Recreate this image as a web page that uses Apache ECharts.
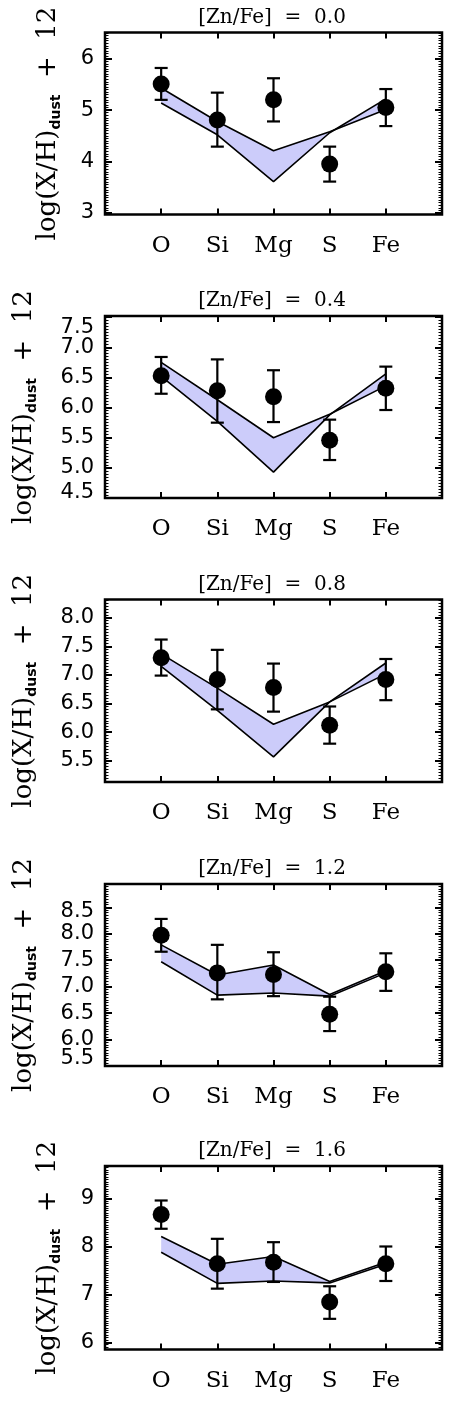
<!DOCTYPE html>
<html>
<head>
<meta charset="utf-8">
<script src="https://cdn.jsdelivr.net/npm/echarts@6/dist/echarts.min.js"></script>
<style>
html, body { margin: 0; padding: 0; background: #fff; }
#chart { width: 471px; height: 1417px; }
</style>
</head>
<body>
<div id="chart"></div>
<script>
const ELEMENTS = ['O', 'Si', 'Mg', 'S', 'Fe'];
const ELEMENT_X = [1, 2, 3, 4, 5];
const ZNFE = ['0.0', '0.4', '0.8', '1.2', '1.6'];

// observed dust-phase abundances, one row per panel
const OBS = [
    [5.51, 4.81, 5.20, 3.95, 5.05],
    [6.53, 6.28, 6.18, 5.46, 6.32],
    [7.30, 6.92, 6.78, 6.12, 6.92],
    [7.97, 7.26, 7.23, 6.48, 7.28],
    [8.67, 7.64, 7.67, 6.84, 7.64],
];
const OBS_HI = [
    [5.82, 5.34, 5.62, 4.29, 5.41],
    [6.84, 6.80, 6.62, 5.80, 6.68],
    [7.62, 7.44, 7.20, 6.45, 7.28],
    [8.28, 7.79, 7.65, 6.81, 7.63],
    [8.96, 8.16, 8.09, 7.17, 8.00],
];
const OBS_LO = [
    [5.20, 4.29, 4.78, 3.61, 4.69],
    [6.23, 5.75, 5.76, 5.13, 5.96],
    [6.99, 6.40, 6.36, 5.80, 6.56],
    [7.66, 6.76, 6.82, 6.16, 6.92],
    [8.37, 7.12, 7.26, 6.49, 7.28],
];

// model band: the two edges of the shaded envelope (they cross near S)
const MODEL_A = [
    [5.43, 4.78, 4.21, 4.58, 5.01],
    [6.75, 6.13, 5.50, 5.89, 6.36],
    [7.37, 6.77, 6.14, 6.53, 7.02],
    [7.79, 7.22, 7.41, 6.85, 7.30],
    [8.21, 7.63, 7.79, 7.27, 7.67],
];
const MODEL_B = [
    [5.14, 4.52, 3.61, 4.56, 5.22],
    [6.52, 5.77, 4.93, 5.88, 6.56],
    [7.15, 6.38, 5.57, 6.53, 7.21],
    [7.47, 6.84, 6.88, 6.82, 7.26],
    [7.88, 7.23, 7.28, 7.24, 7.63],
];

const Y_MIN = [2.97, 4.5, 5.13, 5.5, 5.85];
const Y_MAX = [6.51, 7.52, 8.32, 8.94, 9.68];
const Y_TICKS = [
    [3, 4, 5, 6],
    [4.5, 5, 5.5, 6, 6.5, 7, 7.5],
    [5.5, 6, 6.5, 7, 7.5, 8],
    [5.5, 6, 6.5, 7, 7.5, 8, 8.5],
    [6, 7, 8, 9],
];
const Y_TICK_LABELS = [
    ['3', '4', '5', '6'],
    ['4.5', '5.0', '5.5', '6.0', '6.5', '7.0', '7.5'],
    ['5.5', '6.0', '6.5', '7.0', '7.5', '8.0'],
    ['5.5', '6.0', '6.5', '7.0', '7.5', '8.0', '8.5'],
    ['6', '7', '8', '9'],
];

// layout
const GRID_TOP = [32.5, 316, 599.5, 884, 1166];
const GRID_H = [182, 182, 182.5, 182, 183.5];
const NAME_GAP = [42, 66, 66, 66, 42];
// IDL pushes the edge labels inward a bit; those go on their own axis so
// ECharts' overlap check doesn't drop the neighbours
const LABEL_NUDGE = { '1:7.5': 20, '1:4.5': -10, '3:5.5': -14, '3:8.5': 8 };

const SERIF = 'DejaVu Serif';
const SANS = 'DejaVu Sans';
const BAND_FILL = '#ccccfa';


function minorTicks(min, max) {
    const out = [];
    for (let k = Math.ceil(min / 0.05); k * 0.05 <= max + 1e-9; k++) out.push(+(k * 0.05).toFixed(2));
    return out;
}

const nudgeOf = (p, v) => LABEL_NUDGE[`${p}:${v}`];

function yLabel(p, v) {
    const i = Y_TICKS[p].findIndex(t => Math.abs(t - v) < 1e-6);
    if (i < 0) return '';
    const txt = Y_TICK_LABELS[p][i];
    const nudge = nudgeOf(p, Y_TICKS[p][i]);
    if (!nudge) return txt;
    return nudge > 0 ? `{dn${nudge}|${txt}}` : `{up${-nudge}|${txt}}`;
}

const labelRich = {};
Object.values(LABEL_NUDGE).forEach(n => {
    const key = n > 0 ? `dn${n}` : `up${-n}`;
    labelRich[key] = {
        fontFamily: SANS, fontSize: 21, color: '#000',
        padding: n > 0 ? [n, 0, 0, 0] : [0, 0, -n, 0],
    };
});

const grids = [], xAxes = [], yAxes = [], series = [], graphics = [];

for (let p = 0; p < 5; p++) {
    grids.push({
        left: 105, right: 29, top: GRID_TOP[p], height: GRID_H[p],
        show: true, borderColor: '#000', borderWidth: 2.5,
    });

    // bottom + mirrored top axis
    ['bottom', 'top'].forEach(pos => {
        xAxes.push({
            type: 'value', gridIndex: p, position: pos, min: 0, max: 6,
            axisLine: { show: false },
            axisTick: { show: true, inside: true, length: 6, customValues: ELEMENT_X, lineStyle: { color: '#000', width: 2 } },
            axisLabel: pos === 'bottom' ? {
                show: true, customValues: ELEMENT_X, margin: 20,
                fontFamily: SERIF, fontSize: 23, color: '#000',
                formatter: v => ELEMENTS[Math.round(v) - 1] || '',
            } : { show: false },
            splitLine: { show: false },
        });
    });

    const minors = minorTicks(Y_MIN[p], Y_MAX[p]);
    const plainVals = Y_TICKS[p].filter(v => !nudgeOf(p, v));
    const edgeVals = Y_TICKS[p].filter(v => nudgeOf(p, v));
    const labelBase = {
        margin: 11, showMinLabel: true, showMaxLabel: true,
        fontFamily: SANS, fontSize: 21, color: '#000',
        formatter: v => yLabel(p, v), rich: labelRich,
    };

    ['left', 'right'].forEach(pos => {
        // major ticks (+ regular labels on the left)
        yAxes.push({
            type: 'value', gridIndex: p, position: pos, min: Y_MIN[p], max: Y_MAX[p],
            axisLine: { show: false },
            axisTick: { show: true, inside: true, length: 7, customValues: Y_TICKS[p], lineStyle: { color: '#000', width: 2 } },
            axisLabel: pos === 'left'
                ? Object.assign({ show: true, customValues: plainVals }, labelBase)
                : { show: false },
            splitLine: { show: false },
            name: pos === 'left' ? '{m|log(X/H)}{s|dust}{m|  +  12}' : '',
            nameLocation: 'middle', nameRotate: 90, nameGap: NAME_GAP[p],
            nameTextStyle: {
                color: '#000',
                rich: {
                    m: { fontFamily: SERIF, fontSize: 26, lineHeight: 30, color: '#000' },
                    s: { fontFamily: SANS, fontWeight: 'bold', fontSize: 14, lineHeight: 14, verticalAlign: 'bottom', color: '#000' },
                },
            },
        });
        // minor ticks (+ the nudged edge labels on the left)
        yAxes.push({
            type: 'value', gridIndex: p, position: pos, min: Y_MIN[p], max: Y_MAX[p],
            axisLine: { show: false },
            axisTick: { show: true, inside: true, length: 3.5, customValues: minors, lineStyle: { color: '#000', width: 1 } },
            axisLabel: (pos === 'left' && edgeVals.length)
                ? Object.assign({ show: true, customValues: edgeVals }, labelBase)
                : { show: false },
            splitLine: { show: false },
        });
    });

    const xi = p * 2, yi = p * 4;

    const band = ELEMENT_X.map((x, j) => [x, MODEL_A[p][j], MODEL_B[p][j]]);
    series.push({
        type: 'custom', xAxisIndex: xi, yAxisIndex: yi, z: 1, silent: true,
        data: band,
        encode: { x: 0, y: [1, 2] },
        renderItem: (params, api) => {
            if (params.dataIndex !== 0) return null;
            const pts = band.map(d => api.coord([d[0], d[1]]))
                .concat(band.slice().reverse().map(d => api.coord([d[0], d[2]])));
            return { type: 'polygon', shape: { points: pts }, style: { fill: BAND_FILL } };
        },
    });

    [MODEL_A, MODEL_B].forEach(m => {
        series.push({
            type: 'line', xAxisIndex: xi, yAxisIndex: yi, z: 3, silent: true,
            data: ELEMENT_X.map((x, j) => [x, m[p][j]]),
            symbol: 'none', lineStyle: { color: '#000', width: 1.6 },
        });
    });

    series.push({
        type: 'custom', xAxisIndex: xi, yAxisIndex: yi, z: 5, silent: true,
        data: ELEMENT_X.map((x, j) => [x, OBS_LO[p][j], OBS_HI[p][j]]),
        encode: { x: 0, y: [1, 2] },
        renderItem: (params, api) => {
            const x = api.value(0);
            const lo = api.coord([x, api.value(1)]);
            const hi = api.coord([x, api.value(2)]);
            const w = 6.5;
            const st = { stroke: '#000', lineWidth: 2.2 };
            return {
                type: 'group', children: [
                    { type: 'line', shape: { x1: lo[0], y1: lo[1], x2: hi[0], y2: hi[1] }, style: st },
                    { type: 'line', shape: { x1: lo[0] - w, y1: lo[1], x2: lo[0] + w, y2: lo[1] }, style: st },
                    { type: 'line', shape: { x1: hi[0] - w, y1: hi[1], x2: hi[0] + w, y2: hi[1] }, style: st },
                ],
            };
        },
    });

    series.push({
        type: 'scatter', xAxisIndex: xi, yAxisIndex: yi, z: 6, silent: true,
        data: ELEMENT_X.map((x, j) => [x, OBS[p][j]]),
        symbol: 'circle', symbolSize: 17,
        itemStyle: { color: '#000', opacity: 1 },
    });

    graphics.push({
        type: 'text', x: 272, y: GRID_TOP[p] - 15,
        style: {
            text: `[Zn/Fe]  =  ${ZNFE[p]}`,
            fontFamily: SERIF, fontSize: 20, fill: '#000',
            textAlign: 'center', textVerticalAlign: 'middle',
        },
    });
}

const chart = echarts.init(document.getElementById('chart'));
chart.setOption({
    backgroundColor: '#fff',
    animation: false,
    grid: grids,
    xAxis: xAxes,
    yAxis: yAxes,
    series,
    graphic: graphics,
});
</script>
</body>
</html>
